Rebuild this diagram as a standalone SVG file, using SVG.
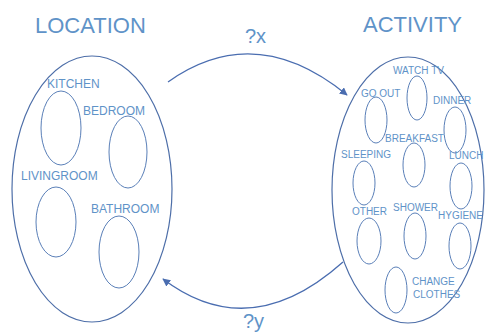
<svg xmlns="http://www.w3.org/2000/svg" width="485" height="334" viewBox="0 0 485 334">
<defs>
<style>
.title{font-family:"Liberation Sans",Arial,sans-serif;font-size:22px;fill:#5f93c8}
.lbl{font-family:"Liberation Sans",Arial,sans-serif;font-size:12px;fill:#5f93c8}
.sl{font-family:"Liberation Sans",Arial,sans-serif;font-size:10px;fill:#5f93c8}
.q{font-family:"Liberation Sans",Arial,sans-serif;font-size:20px;fill:#5f93c8}
.big{fill:none;stroke:#4d6ea8;stroke-width:1.2}
.in{fill:none;stroke:#5a7fb8;stroke-width:1}
.arr{fill:none;stroke:#4a6db0;stroke-width:1.3}
</style>
<marker id="ah" viewBox="0 0 10 10" refX="9" refY="5" markerWidth="8" markerHeight="8" markerUnits="userSpaceOnUse" orient="auto">
<path d="M0,0 L10,5 L0,10 z" fill="#4a6db0"/>
</marker>
</defs>
<g id="location">
<text class="title" x="35" y="33">LOCATION</text>
<ellipse class="big" cx="92" cy="189" rx="80" ry="133"/>
</g>
<g id="kitchen"><ellipse class="in" cx="61" cy="128" rx="20" ry="37"/><text class="lbl" x="47" y="88">KITCHEN</text></g>
<g id="bedroom"><ellipse class="in" cx="128" cy="152" rx="19" ry="36"/><text class="lbl" x="83" y="115">BEDROOM</text></g>
<g id="livingroom"><ellipse class="in" cx="56" cy="222" rx="20" ry="35"/><text class="lbl" x="21" y="180">LIVINGROOM</text></g>
<g id="bathroom"><ellipse class="in" cx="119" cy="252" rx="20" ry="36"/><text class="lbl" x="91" y="213">BATHROOM</text></g>
<g id="activity">
<text class="title" x="363" y="32">ACTIVITY</text>
<ellipse class="big" cx="408" cy="190" rx="76" ry="133"/>
</g>
<g id="watchtv"><ellipse class="in" cx="417" cy="98" rx="10" ry="22"/><text class="sl" x="393" y="74">WATCH TV</text></g>
<g id="goout"><ellipse class="in" cx="376" cy="120" rx="11" ry="23"/><text class="sl" x="361" y="97">GO OUT</text></g>
<g id="dinner"><ellipse class="in" cx="455" cy="130" rx="11" ry="23"/><text class="sl" x="433" y="104">DINNER</text></g>
<g id="breakfast"><ellipse class="in" cx="414" cy="165" rx="11" ry="22"/><text class="sl" x="385" y="142">BREAKFAST</text></g>
<g id="sleeping"><ellipse class="in" cx="364" cy="183" rx="11" ry="22"/><text class="sl" x="341" y="158">SLEEPING</text></g>
<g id="lunch"><ellipse class="in" cx="461" cy="186" rx="11" ry="23"/><text class="sl" x="449" y="159">LUNCH</text></g>
<g id="other"><ellipse class="in" cx="369" cy="241" rx="12" ry="23"/><text class="sl" x="352" y="215">OTHER</text></g>
<g id="shower"><ellipse class="in" cx="415" cy="236" rx="11" ry="23"/><text class="sl" x="393" y="211">SHOWER</text></g>
<g id="hygiene"><ellipse class="in" cx="460" cy="246" rx="11" ry="23"/><text class="sl" x="438" y="219">HYGIENE</text></g>
<g id="changeclothes"><ellipse class="in" cx="396" cy="290" rx="11" ry="23"/><text class="sl" x="412" y="285">CHANGE</text><text class="sl" x="413" y="298">CLOTHES</text></g>
<g id="connectors">
<path class="arr" d="M168,82 Q255,20 347,95" marker-end="url(#ah)"/>
<path class="arr" d="M343,262 Q250,345 163,279" marker-end="url(#ah)"/>
<text class="q" x="245" y="43">?x</text>
<text class="q" x="243" y="328">?y</text>
</g>
</svg>
